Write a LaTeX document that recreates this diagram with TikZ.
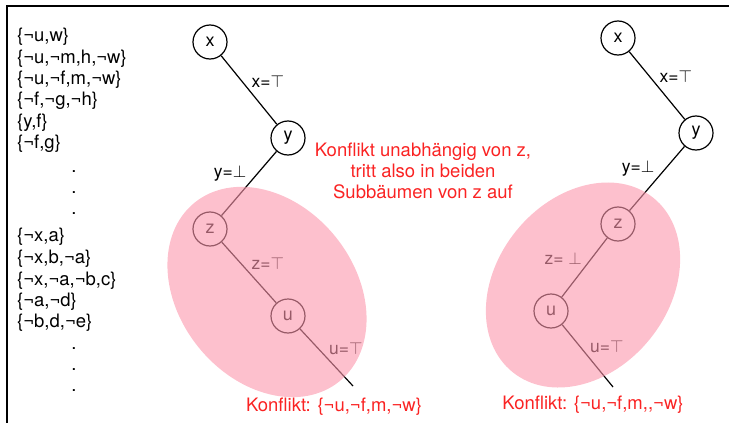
\documentclass[tikz,border=0pt]{standalone}
\usepackage{fontspec}
\setmainfont{TeX Gyre Heros}
\usepackage{tikz}
\usetikzlibrary{positioning}
\definecolor{conflictred}{RGB}{250,35,35}
\definecolor{subtreepink}{RGB}{252,150,172}
\tikzset{
  var/.style={circle,draw,line width=1.2pt,fill=white,minimum size=34pt,
    inner sep=0pt,font=\fontsize{18}{20}\selectfont},
  branch/.style={line width=1.2pt},
  edgelabel/.style={font=\fontsize{17.5}{19}\selectfont,inner sep=2pt},
  clause/.style={anchor=west,inner sep=0pt,font=\fontsize{18.5}{21}\selectfont},
  vdots/.style={inner sep=0pt,font=\fontsize{18.5}{21}\selectfont},
  conflict/.style={text=conflictred,font=\fontsize{18.5}{21}\selectfont,
    align=center,inner sep=0pt},
  subtree/.style={fill=subtreepink,fill opacity=.6}}

\begin{document}
\begin{tikzpicture}[x=1pt,y=-1pt]
  \useasboundingbox (0,0) rectangle (729,423);
  \draw[line width=1.4pt] (7,423) -- (7,6) -- (729,6);

  % clause list
  \node[clause] (c1) at (17,37) {\{¬u,w\}};
  \node[clause] (c2) at (17,58.5) {\{¬u,¬m,h,¬w\}};
  \node[clause] (c3) at (17,80) {\{¬u,¬f,m,¬w\}};
  \node[clause] (c4) at (17,101) {\{¬f,¬g,¬h\}};
  \node[clause] (c5) at (17,122.5) {\{y,f\}};
  \node[clause] (c6) at (17,144) {\{¬f,g\}};
  \node[vdots] (d1) at (74,172) {.};
  \node[vdots] (d2) at (74,193) {.};
  \node[vdots] (d3) at (74,214) {.};
  \node[clause] (c7) at (17,237) {\{¬x,a\}};
  \node[clause] (c8) at (17,259) {\{¬x,b,¬a\}};
  \node[clause] (c9) at (17,280.5) {\{¬x,¬a,¬b,c\}};
  \node[clause] (c10) at (17,302) {\{¬a,¬d\}};
  \node[clause] (c11) at (17,323) {\{¬b,d,¬e\}};
  \node[vdots] (d4) at (74,349) {.};
  \node[vdots] (d5) at (74,370) {.};
  \node[vdots] (d6) at (74,391) {.};

  % left tree
  \node[var] (lx) at (210,42) {x};
  \node[var] (ly) at (288,138) {y};
  \node[var] (lz) at (210,229) {z};
  \node[var] (lu) at (288,316) {u};
  \coordinate (lend) at (353,386);
  \draw[branch] (lx) -- node[edgelabel,above right] {x=$\top$} (ly);
  \draw[branch] (ly) -- node[edgelabel,above left] {y=$\bot$} (lz);
  \draw[branch] (lz) -- node[edgelabel,above right] {z=$\top$} (lu);
  \draw[branch] (lu) -- node[edgelabel,above right] {u=$\top$} (lend);

  % right tree
  \node[var] (rx) at (618,38) {x};
  \node[var] (ry) at (696,133) {y};
  \node[var] (rz) at (618,224) {z};
  \node[var] (ru) at (551,311) {u};
  \coordinate (rend) at (613,387);
  \draw[branch] (rx) -- node[edgelabel,above right] {x=$\top$} (ry);
  \draw[branch] (ry) -- node[edgelabel,above left] {y=$\bot$} (rz);
  \draw[branch] (rz) -- node[edgelabel,above left] {z= $\bot$} (ru);
  \draw[branch] (ru) -- node[edgelabel,above right] {u=$\top$} (rend);

  % subtrees
  \fill[subtree,rotate around={-51:(267,292)}] (267,292)
    ellipse [x radius=115pt,y radius=88pt];
  \fill[subtree,rotate around={51:(583,285)}] (583,285)
    ellipse [x radius=112pt,y radius=86pt];

  \node[conflict] (note) at (423,171)
    {Konflikt unabhängig von z,\\tritt also in beiden\\Subbäumen von z auf};
  \node[conflict] (lconf) at (334,407) {Konflikt: \{¬u,¬f,m,¬w\}};
  \node[conflict] (rconf) at (593,405) {Konflikt: \{¬u,¬f,m,{},¬w\}};
\end{tikzpicture}
\end{document}
